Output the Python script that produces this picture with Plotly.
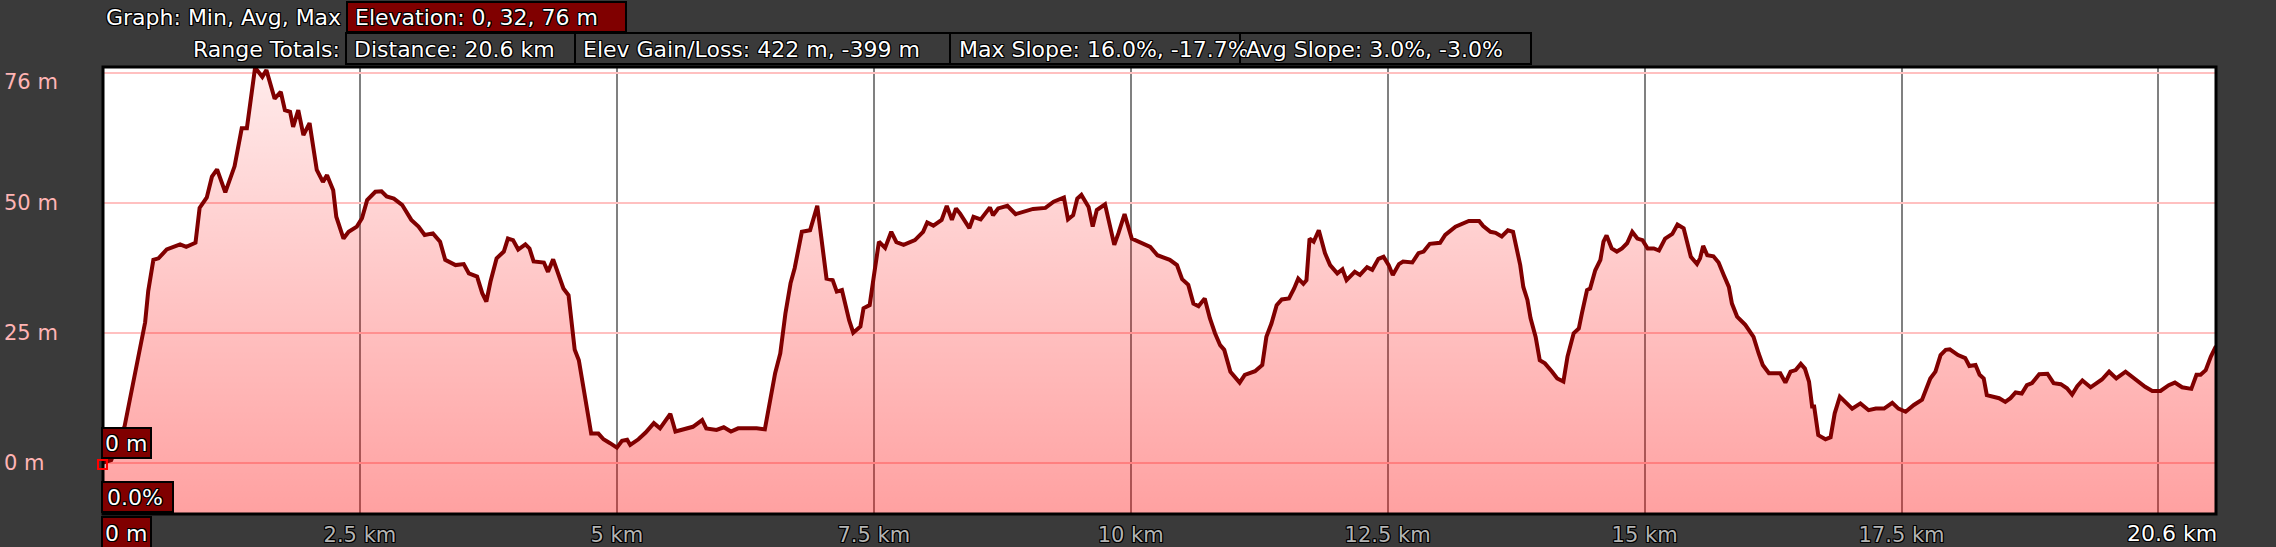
import plotly.graph_objects as go

# ---------------- data ----------------
dist_km = [0.00, 0.08, 0.21, 0.30, 0.38, 0.41, 0.44, 0.49, 0.54, 0.62, 0.75, 0.81, 0.90, 0.94, 1.01, 1.06, 1.11, 1.19,
           1.28, 1.35, 1.40, 1.48, 1.55, 1.59, 1.67, 1.73, 1.77, 1.82, 1.85, 1.90, 1.95, 2.01, 2.08, 2.14, 2.18, 2.24,
           2.27, 2.34, 2.39, 2.47, 2.52, 2.57, 2.65, 2.71, 2.76, 2.83, 2.91, 3.00, 3.07, 3.13, 3.21, 3.28, 3.33, 3.43,
           3.51, 3.56, 3.64, 3.69, 3.73, 3.77, 3.83, 3.90, 3.94, 3.99, 4.04, 4.11, 4.15, 4.19, 4.29, 4.33, 4.38, 4.43,
           4.48, 4.53, 4.56, 4.59, 4.63, 4.68, 4.72, 4.75, 4.82, 4.87, 4.93, 5.00, 5.05, 5.10, 5.13, 5.21, 5.28, 5.36,
           5.42, 5.47, 5.52, 5.57, 5.65, 5.74, 5.83, 5.87, 5.97, 6.04, 6.11, 6.18, 6.28, 6.36, 6.44, 6.49, 6.54, 6.59,
           6.64, 6.69, 6.73, 6.80, 6.88,
           6.95, 6.99, 7.04, 7.10, 7.14, 7.19, 7.22, 7.26, 7.30, 7.37, 7.40, 7.46, 7.50, 7.55, 7.61, 7.67, 7.72, 7.79,
           7.90, 7.98, 8.02, 8.08, 8.16, 8.21, 8.26, 8.30, 8.34, 8.43, 8.47, 8.54, 8.63, 8.66, 8.71, 8.80, 8.88, 8.96,
           9.05, 9.17, 9.25, 9.35, 9.39, 9.44, 9.48, 9.52, 9.59, 9.63, 9.67, 9.75, 9.84, 9.88, 9.94, 10.01, 10.11,
           10.19, 10.26, 10.34,
           10.38, 10.45, 10.50, 10.56, 10.61, 10.66, 10.72, 10.77, 10.82, 10.87, 10.91, 10.97, 11.01, 11.06, 11.11,
           11.21, 11.28, 11.32, 11.37, 11.42, 11.47, 11.54, 11.59, 11.63, 11.68, 11.71, 11.74, 11.78, 11.83, 11.89,
           11.94, 12.01, 12.06, 12.10, 12.18, 12.23, 12.30, 12.35, 12.41, 12.46, 12.51, 12.55, 12.61, 12.65, 12.74,
           12.80, 12.85, 12.91, 13.01, 13.06, 13.16, 13.22, 13.29, 13.39, 13.43, 13.50, 13.55, 13.61, 13.67, 13.72,
           13.76, 13.79,
           13.82, 13.86, 13.89, 13.94, 13.98, 14.03, 14.10, 14.15, 14.21, 14.25, 14.31, 14.36, 14.39, 14.44, 14.47,
           14.52, 14.57, 14.60, 14.63, 14.68, 14.73, 14.78, 14.83, 14.88, 14.93, 14.98, 15.03, 15.09, 15.14, 15.20,
           15.27, 15.32, 15.38, 15.41, 15.45, 15.51, 15.54, 15.57, 15.61, 15.67, 15.72, 15.77, 15.82, 15.85, 15.90,
           15.98, 16.06, 16.11, 16.15, 16.21, 16.29, 16.32, 16.37, 16.42, 16.47, 16.52, 16.56, 16.60, 16.63, 16.65,
           16.69, 16.76, 16.81, 16.85, 16.90, 16.95, 17.02, 17.10, 17.18, 17.25,
           17.33, 17.41, 17.47, 17.54, 17.62, 17.70, 17.78, 17.83, 17.88, 17.93, 17.97, 18.05, 18.12, 18.16, 18.22,
           18.26, 18.30, 18.33, 18.38, 18.45, 18.51, 18.56, 18.61, 18.67, 18.72, 18.77, 18.84, 18.92, 18.98, 19.05,
           19.11, 19.16, 19.21, 19.26, 19.34, 19.40, 19.45, 19.52, 19.59, 19.68, 19.76, 19.81, 19.87, 19.94, 20.02,
           20.10, 20.16, 20.23, 20.28, 20.32, 20.37, 20.41, 20.46, 20.51, 20.56]

elev_m = [0.0, 0.5, 7.0, 16.0, 24.0, 27.0, 33.0, 39.0, 39.3, 41.0, 42.0, 41.5, 42.3, 49.0, 51.0, 55.0, 56.4, 52.0,
          57.0, 64.3, 64.3, 76.0, 74.2, 75.5, 70.0, 71.3, 67.8, 67.5, 64.6, 67.8, 63.0, 65.3, 56.3, 54.0, 55.3, 52.4,
          47.3, 43.1, 44.4, 45.4, 47.0, 50.5, 52.1, 52.2, 51.2, 50.8, 49.6, 46.7, 45.4, 43.8, 44.1, 42.5, 39.0, 38.0,
          38.2, 36.4, 35.8, 32.6, 31.0, 34.8, 39.3, 40.6, 43.1, 42.8, 41.0, 42.0, 41.2, 38.7, 38.5, 36.7, 39.1, 36.4,
          33.5, 32.2, 27.4, 21.7, 19.7, 14.0, 10.1, 5.6, 5.6, 4.5, 3.8, 2.9, 4.2, 4.4, 3.4, 4.5, 5.8, 7.6,
          6.6, 7.9, 9.4, 6.0, 6.4, 6.9, 8.2, 6.6, 6.3, 6.8, 6.0, 6.6, 6.6, 6.6, 6.4, 11.4, 17.2, 21.0,
          28.7, 34.5, 37.4, 44.4, 44.7,
          49.4, 42.8, 35.4, 35.1, 32.9, 33.2, 30.3, 27.4, 25.0, 26.2, 29.7, 30.3, 35.8, 42.5, 41.3, 44.4, 42.4, 41.9,
          42.8, 44.4, 46.2, 45.6, 46.7, 49.4, 46.7, 48.9, 47.9, 45.1, 47.3, 46.8, 49.1, 47.6, 48.9, 49.4, 47.8, 48.3,
          48.8, 49.0, 50.2, 51.0, 46.8, 47.6, 50.8, 51.5, 49.2, 45.4, 48.6, 49.7, 41.9, 44.1, 47.8, 43.1, 42.3,
          41.5, 39.9, 39.3,
          39.0, 38.0, 35.3, 34.2, 30.6, 30.1, 31.6, 27.8, 24.9, 22.6, 21.7, 17.5, 16.5, 15.4, 16.9,
          17.6, 18.8, 24.2, 26.8, 30.3, 31.4, 31.6, 33.5, 35.4, 34.4, 35.1, 43.1, 42.5, 44.7, 40.3,
          38.0, 36.4, 37.2, 35.1, 36.7, 36.1, 37.6, 37.1, 39.2, 39.6, 38.0, 36.1, 38.2, 38.7, 38.5,
          40.3, 40.6, 42.1, 42.3, 43.8, 45.4, 45.9, 46.5, 46.5, 45.5, 44.4, 44.2, 43.5, 44.7, 44.4,
          41.2, 38.0,
          33.8, 31.3, 27.8, 24.2, 19.7, 19.1, 17.5, 16.2, 15.6, 20.4, 24.9, 25.8, 28.7, 33.2, 33.5,
          37.0, 39.0, 42.5, 43.7, 41.2, 40.6, 41.2, 42.2, 44.4, 43.1, 42.8, 41.2, 41.2, 40.8, 43.1,
          44.0, 45.8, 45.1, 42.8, 39.6, 38.2, 39.3, 41.7, 39.9, 39.7, 38.5, 36.1, 33.8, 30.6, 28.1,
          26.5, 24.2, 21.0, 18.8, 17.2, 17.3, 17.2, 15.4, 17.5, 17.8, 19.0, 18.1, 15.6, 10.8, 10.8,
          5.3, 4.5, 4.9, 9.5, 12.7, 11.7, 10.4, 11.4, 10.1, 10.4,
          10.4, 11.5, 10.4, 9.8, 11.1, 12.1, 16.2, 17.5, 20.7, 21.7, 21.8, 20.7, 20.1, 18.6, 18.8,
          16.9, 16.2, 13.0, 12.7, 12.4, 11.7, 12.4, 13.5, 13.3, 14.9, 15.3, 17.0, 17.1, 15.3, 15.1,
          14.3, 13.1, 14.7, 15.8, 14.5, 15.3, 16.0, 17.5, 16.2, 17.5, 16.2, 15.4, 14.6, 13.8, 13.8,
          14.9, 15.4, 14.5, 14.4, 14.2, 16.9, 16.9, 17.8, 20.4, 22.4]

y_grid = [0, 25, 50, 75]
y_labels = ["0 m", "25 m", "50 m", "76 m"]
y_label_pos = [0, 25, 50, 73.3]
x_ticks = [0, 2.5, 5, 7.5, 10, 12.5, 15, 17.5, 20]
x_tick_text = ["", "2.5 km", "5 km", "7.5 km", "10 km", "12.5 km", "15 km", "17.5 km", ""]
end_label = "20.6 km"
total_km = 20.56
y_min, y_max = -9.87, 76.1

header_row1 = ["Graph: Min, Avg, Max", "Elevation: 0, 32, 76 m"]
header_row2 = ["Range Totals:", "Distance: 20.6 km", "Elev Gain/Loss: 422 m, -399 m",
               "Max Slope: 16.0%, -17.7%", "Avg Slope: 3.0%, -3.0%"]
cursor_texts = ["0 m", "0.0%", "0 m"]

# ---------------- layout geometry ----------------
W, H = 2276, 547
L, R, T, B = 103, 60, 67, 33
PW, PH = W - L - R, H - T - B
BG = "#3a3a3a"
DARKRED = "#800000"
FONT = "DejaVu Sans"
FS = 22
OUT = ("-1px -1px 0 #000, 1px -1px 0 #000, -1px 1px 0 #000, 1px 1px 0 #000, "
       "0 1px 0 #000, 0 -1px 0 #000, 1px 0 0 #000, -1px 0 0 #000")


def px(xp):
    return (xp - L) / PW


def py(yp):
    return (H - B - yp) / PH


fig = go.Figure()

# baseline at the bottom of the plot so the fill reaches the frame
fig.add_trace(go.Scatter(x=[0, total_km], y=[y_min, y_min], mode="lines",
                         line=dict(width=0, color="rgba(0,0,0,0)"), hoverinfo="skip", showlegend=False))
fig.add_trace(go.Scatter(
    x=dist_km, y=elev_m, mode="lines", fill="tonexty",
    fillgradient=dict(type="vertical", start=y_min, stop=y_max,
                      colorscale=[[0, "rgba(255,0,0,0.37)"], [1, "rgba(255,0,0,0.08)"]]),
    line=dict(color=DARKRED, width=4), showlegend=False, hoverinfo="skip"))

shapes = []
annotations = []


def box(x0, y0, x1, y1, fill):
    shapes.append(dict(type="rect", xref="paper", yref="paper", x0=px(x0), x1=px(x1), y0=py(y1), y1=py(y0),
                       fillcolor=fill, line=dict(color="#000", width=2), layer="above"))


def label(text, x, y, anchor="left", color="#ffffff"):
    annotations.append(dict(text=text, xref="paper", yref="paper", x=px(x), y=py(y), xanchor=anchor,
                            yanchor="middle", showarrow=False,
                            font=dict(family=FONT, size=FS, color=color, shadow=OUT)))


# plot frame
shapes.append(dict(type="rect", xref="paper", yref="paper", x0=0, x1=1, y0=0, y1=1,
                   line=dict(color="#000", width=3), layer="above"))

# header
label(header_row1[0], 343, 17, anchor="right")
box(347, 2, 626, 32, DARKRED)
label(header_row1[1], 353, 17)
label(header_row2[0], 342, 49, anchor="right")
row2_edges = [346, 575, 950, 1240, 1531]
row2_text_x = [352, 581, 957, 1244]
for i in range(4):
    box(row2_edges[i], 33, row2_edges[i + 1], 64, BG)
for i in range(4):
    label(header_row2[i + 1], row2_text_x[i], 49)

# cursor boxes
box(102, 428, 151, 458, DARKRED)
label(cursor_texts[0], 103, 443)
box(102, 482, 173, 512, DARKRED)
label(cursor_texts[1], 105, 497)
box(102, 517, 151, 552, DARKRED)
label(cursor_texts[2], 103, 533)

# cursor marker (red open square) at the first profile point, drawn above the frame
annotations.append(dict(text="", xref="x", yref="y", x=dist_km[0], y=elev_m[0], showarrow=False,
                        xanchor="center", yanchor="middle", width=7, height=7, borderpad=0,
                        bordercolor="#ff0000", borderwidth=2, bgcolor="rgba(0,0,0,0)",
                        yshift=-2, xshift=-0.5))

# end of range label
label(end_label, 2219, 533, anchor="right")

# y labels (left aligned at the page edge)
for v, t in zip(y_label_pos, y_labels):
    annotations.append(dict(text=t, xref="paper", yref="y", x=px(2), y=v, xanchor="left", yanchor="middle",
                            showarrow=False, font=dict(family=FONT, size=21, color="#ffb4b4")))

fig.update_layout(
    template="none",
    width=W, height=H, margin=dict(l=L, r=R, t=T, b=B, pad=0, autoexpand=False),
    paper_bgcolor=BG, plot_bgcolor="#ffffff",
    shapes=shapes, annotations=annotations,
    xaxis=dict(range=[0, total_km], tickvals=x_ticks, ticktext=x_tick_text, showgrid=True,
               gridcolor="#808080", gridwidth=2, zeroline=False, ticks="", showline=False,
               automargin=False, ticklabelstandoff=6,
               tickfont=dict(family=FONT, size=21, color="#b4b4b4", shadow=OUT), fixedrange=True),
    yaxis=dict(range=[y_min, y_max], tickvals=y_grid, showticklabels=False, showgrid=True,
               gridcolor="#ffc0c0", gridwidth=2, zeroline=False, ticks="", showline=False,
               automargin=False, fixedrange=True),
    showlegend=False,
)

fig.write_html("out.html", config={"displayModeBar": False},
               post_script="document.body.style.margin='0';document.body.style.overflow='hidden';")
